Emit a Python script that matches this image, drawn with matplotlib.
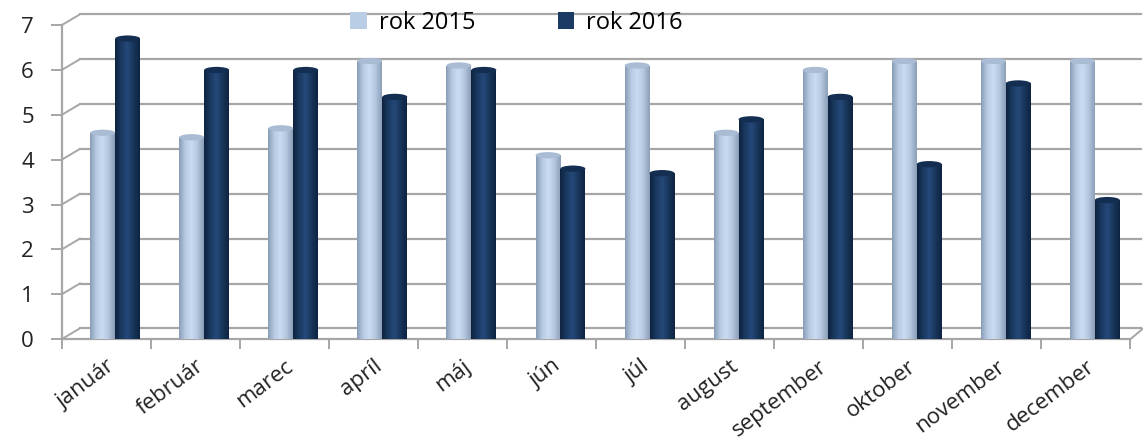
import numpy as np
import matplotlib
matplotlib.use('Agg')
import matplotlib.pyplot as plt
from matplotlib.colors import LinearSegmentedColormap
from matplotlib.patches import Ellipse

months = ['január', 'február', 'marec', 'apríl', 'máj', 'jún',
          'júl', 'august', 'september', 'oktober', 'november', 'december']
rok2015 = [4.6, 4.5, 4.7, 6.2, 6.1, 4.1, 6.1, 4.6, 6.0, 6.2, 6.2, 6.2]
rok2016 = [6.7, 6.0, 6.0, 5.4, 6.0, 3.8, 3.7, 4.9, 5.4, 3.9, 5.7, 3.1]
labels = ['rok 2015', 'rok 2016']

plt.rcParams['font.family'] = ['Open Sans', 'DejaVu Sans']

fig = plt.figure(figsize=(11.43, 4.41), dpi=100)
ax = fig.add_axes([0.054, 0.231, 0.935, 0.712])

x = np.arange(len(months))
w = 0.28
shift = 0.1
b1 = ax.bar(x + shift - w / 2, rok2015, w, color='#B9CDE5', label=labels[0], zorder=3)
b2 = ax.bar(x + shift + w / 2, rok2016, w, color='#1B3A64', label=labels[1], zorder=3)

# cylinder-like shading + top caps
cm1 = LinearSegmentedColormap.from_list('c1', ['#8A9DB6', '#B7CBE3', '#CADCF2', '#B3C6DE', '#8C9FB8'])
cm2 = LinearSegmentedColormap.from_list('c2', ['#0E2340', '#1A3960', '#25497A', '#18355A', '#0F2442'])
grad = np.linspace(0, 1, 64).reshape(1, -1)
for bars, cm, cap in ((b1, cm1, '#A9BCD4'), (b2, cm2, '#142E52')):
    for p in bars:
        x0, y0 = p.get_x(), p.get_y()
        im = ax.imshow(grad, cmap=cm, aspect='auto', zorder=3.5,
                       extent=(x0, x0 + p.get_width(), y0, y0 + p.get_height()))
        im.set_clip_path(p)
        ax.add_patch(Ellipse((x0 + p.get_width() / 2, y0 + p.get_height()), p.get_width(), 0.14,
                             facecolor=cap, edgecolor='none', zorder=4))

ax.set_xlim(-0.5, 11.5)
ax.set_ylim(0, 7)

# back wall gridlines (pseudo 3D)
dx, dy = 0.017, 0.24
tr = ax.get_yaxis_transform()
for v in range(8):
    ax.plot([0, dx], [v, v + dy], color='#A6A6A6', lw=1.4, transform=tr, clip_on=False, zorder=1)
    ax.plot([dx, 1.01], [v + dy, v + dy], color='#A6A6A6', lw=1.6, transform=tr, clip_on=False, zorder=1)
ax.plot([1.0, 1.012], [0, dy], color='#A6A6A6', lw=1.4, transform=tr, clip_on=False, zorder=1)

for s in ['top', 'right']:
    ax.spines[s].set_visible(False)
for s in ['left', 'bottom']:
    ax.spines[s].set_color('#A6A6A6')
    ax.spines[s].set_linewidth(1.6)

ax.set_yticks(range(8))
ax.tick_params(axis='y', colors='#A6A6A6', length=8, width=1.4, labelcolor='#222222',
               labelsize=16, pad=12)
ax.set_xticks(x)
ax.set_xticklabels(months, rotation=37, ha='right', rotation_mode='anchor',
                   fontsize=16, color='#222222')
ax.tick_params(axis='x', length=0, pad=12)
ax.set_xticks(np.arange(-0.5, 12, 1), minor=True)
ax.tick_params(axis='x', which='minor', colors='#A6A6A6', length=7, width=1.4)

ax.legend(loc='center', bbox_to_anchor=(0.452, 0.948), bbox_transform=fig.transFigure,
          ncol=2, frameon=False, fontsize=17, handlelength=0.7, handleheight=0.7,
          columnspacing=3.5, handletextpad=0.5)

plt.savefig('out.png', dpi=100)
